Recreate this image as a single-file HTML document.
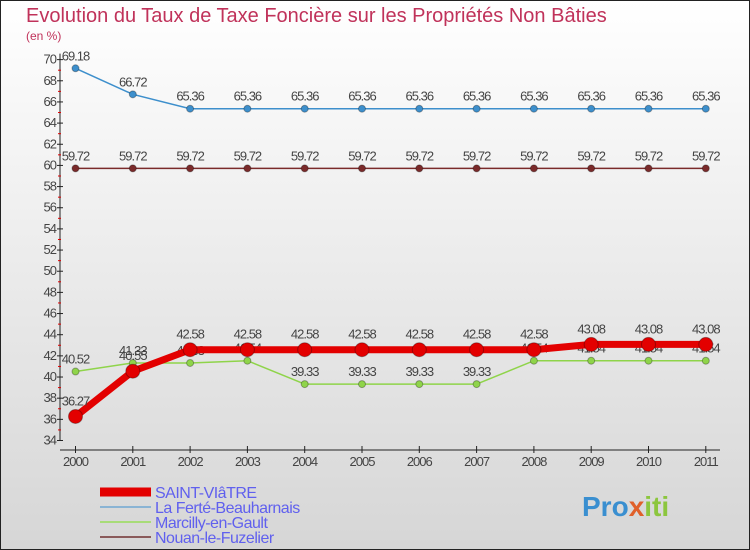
<!DOCTYPE html>
<html><head><meta charset="utf-8"><style>
body{margin:0}
#c{width:750px;height:550px;position:relative;overflow:hidden;font-family:"Liberation Sans",sans-serif;}
svg text{font-family:"Liberation Sans",sans-serif}
</style></head><body>
<div id="c">
<svg id="s" width="750" height="550" xmlns="http://www.w3.org/2000/svg">
<defs><linearGradient id="bg" x1="0" y1="0" x2="0" y2="1"><stop offset="0" stop-color="#ffffff"/><stop offset="1" stop-color="#d6d6d6"/></linearGradient></defs>
<rect x="0.5" y="0.5" width="749" height="549" fill="url(#bg)" stroke="#222"/>
<text x="26" y="22" font-size="20" fill="#c0325a">Evolution du Taux de Taxe Foncière sur les Propriétés Non Bâties</text>
<text x="26" y="40" font-size="12" fill="#c0325a">(en %)</text>
<g id="axes"></g><g id="series"></g><g id="legend"></g>
<text x="582" y="516" font-size="28" font-weight="bold" fill="#3a8fd0">Pro<tspan fill="#e0602a">x</tspan><tspan fill="#8cc63e">iti</tspan></text>
</svg></div>
<script>
const years=["2000","2001","2002","2003","2004","2005","2006","2007","2008","2009","2010","2011"];
const yTicks=[34,36,38,40,42,44,46,48,50,52,54,56,58,60,62,64,66,68,70];
const saintViatre=[36.27,40.55,42.58,42.58,42.58,42.58,42.58,42.58,42.58,43.08,43.08,43.08];
const laFerte=[69.18,66.72,65.36,65.36,65.36,65.36,65.36,65.36,65.36,65.36,65.36,65.36];
const marcilly=[40.52,41.33,41.33,41.54,39.33,39.33,39.33,39.33,41.54,41.54,41.54,41.54];
const nouan=[59.72,59.72,59.72,59.72,59.72,59.72,59.72,59.72,59.72,59.72,59.72,59.72];
const NS="http://www.w3.org/2000/svg";
const X=i=>75.5+i*57.3;
const Y=v=>440.5-(v-34)*10.58;
function mk(t,a,p){const e=document.createElementNS(NS,t);for(const k in a)e.setAttribute(k,a[k]);p.appendChild(e);return e;}
const ax=document.getElementById('axes');
let e=mk('line',{x1:60,y1:Y(70)-6,x2:60,y2:Y(34),stroke:'#222'},ax);


e=mk('line',{x1:60,y1:450,x2:720,y2:450,stroke:'#222'},ax);


yTicks.forEach(v=>{
 mk('line',{x1:57,y1:Y(v),x2:63,y2:Y(v),stroke:'#222'},ax);
 if(v<70) mk('line',{x1:58,y1:Y(v+1),x2:61,y2:Y(v+1),stroke:'#d00'},ax);
 const t=mk('text',{x:56,y:Y(v)+4,'font-size':13,'text-anchor':'end',fill:'#444','letter-spacing':'-1'},ax);
 t.textContent=v;
 
 
});
years.forEach((y,i)=>{
 mk('line',{x1:X(i),y1:446,x2:X(i),y2:453,stroke:'#222'},ax);
 const t=mk('text',{x:X(i),y:466,'font-size':13,'text-anchor':'middle',fill:'#444','letter-spacing':'-1'},ax);
 t.textContent=y;
 
 
});
const sg=document.getElementById('series');
function series(d,name,color,w,r,labelDy){
 const g=mk('g',{},sg);
 
 
 mk('polyline',{points:d.map((v,i)=>X(i)+','+Y(v)).join(' '),fill:'none',stroke:color,'stroke-width':w},g);
 d.forEach((v,i)=>{
  const c=mk('circle',{cx:X(i),cy:Y(v),r:r,fill:color,stroke:'rgba(0,0,0,0.3)'},g);
  
  
  const t=mk('text',{x:X(i),y:Y(v)-labelDy,'font-size':13,'text-anchor':'middle',fill:'#444','letter-spacing':'-1'},g);
  t.textContent=v.toFixed(2);
  
  
 });
}
series(laFerte,'la-ferte','#3d8fcc',1.5,3.5,8);
series(nouan,'nouan','#7a2a2a',1.5,3.5,8);
series(marcilly,'marcilly','#8fd44a',1.5,3.5,8);
series(saintViatre,'saint-viatre','#e30000',7,7,11);
const lg=document.getElementById('legend');
const leg=[["SAINT-VIâTRE","#e30000",9],["La Ferté-Beauharnais","#8ab4d4",2],["Marcilly-en-Gault","#a8dc78",2],["Nouan-le-Fuzelier","#8a5a5a",2]];
leg.forEach((l,i)=>{
 const y=492+i*15;
 const g=mk('g',{},lg);
 
 
 mk('line',{x1:100,y1:y,x2:151,y2:y,stroke:l[1],'stroke-width':l[2]},g);
 const t=mk('text',{x:155,y:y+6,'font-size':16,fill:'#6060ee','letter-spacing':'-0.5'},g);
 t.textContent=l[0];
});
</script>
</body></html>
